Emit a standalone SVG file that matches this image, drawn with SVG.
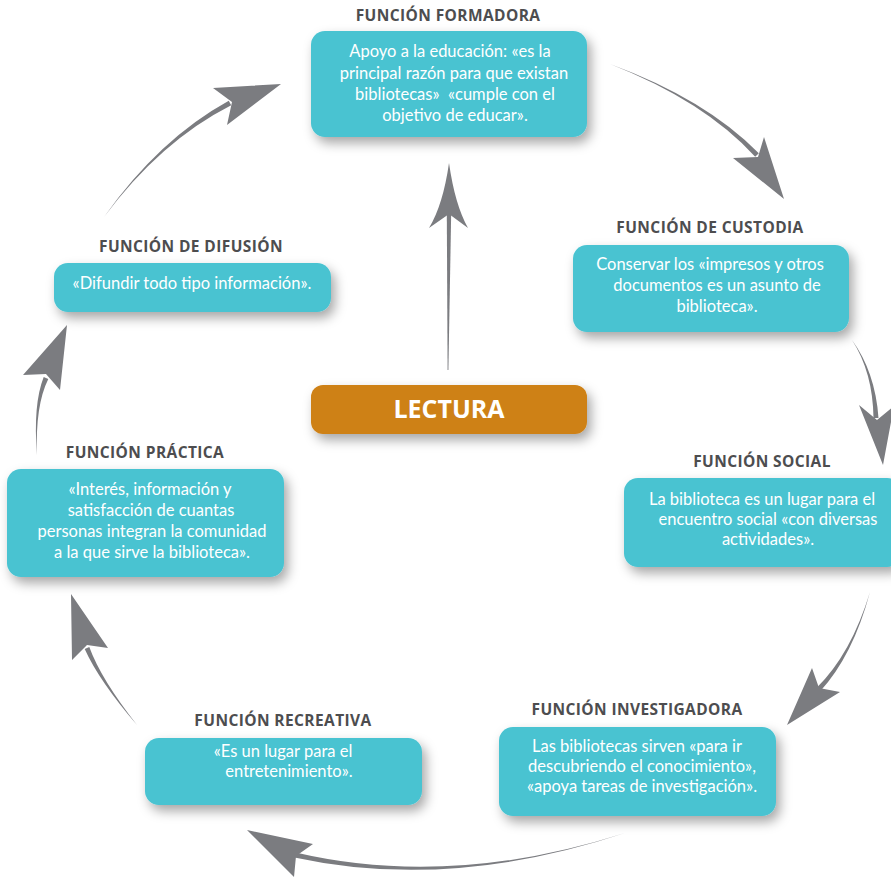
<svg xmlns="http://www.w3.org/2000/svg" width="891" height="879" viewBox="0 0 891 879">
<defs>
<filter id="sh" x="-20%" y="-30%" width="150%" height="180%">
<feDropShadow dx="4" dy="6" stdDeviation="6" flood-color="#000" flood-opacity="0.35"/>
</filter>
<style>
.box{fill:#48c3d1;filter:url(#sh)}
.core{fill:#ce8117;filter:url(#sh)}
.ttl{font-family:"Open Sans","Noto Sans",sans-serif;font-weight:bold;font-size:15.5px;letter-spacing:0.4px;fill:#4d4d4f;text-anchor:middle}
.txt{font-family:Lato,"Open Sans",sans-serif;font-size:16.5px;fill:#ffffff;text-anchor:middle}
.big{font-family:"Open Sans","Noto Sans",sans-serif;font-weight:bold;font-size:25px;fill:#ffffff;text-anchor:middle}
.arr{fill:#7b7c80}
</style>
</defs>
<rect width="891" height="879" fill="#ffffff"/>

<g id="connectors" class="arr">
<g id="c-center"><path d="M447.6,370 L446.8,212 L451.2,212 L448.4,370 Z"/><path d="M449,163 Q455,205 468,228 L449,214 L429,228 Q443,205 449,163 Z"/></g>
<g id="c-formadora-custodia"><path d="M610,64 Q704.1,100.8 755.2,156.7 L758.8,153.3 Q705.9,99.2 610,64 Z"/><path d="M784,199 L733,158 L758,157 L764,137 Z"/></g>
<g id="c-custodia-social"><path d="M852,340 Q872.8,372 873.5,418.1 L878.5,417.9 Q875.2,372 852,340 Z"/><path d="M883,465 L859,405 L877,420 L894,406 Z"/></g>
<g id="c-social-investigadora"><path d="M870,592 Q851.1,654.2 816.2,688.3 L819.8,691.7 Q852.9,655.8 870,592 Z"/><path d="M787,725 L840,692 L819,688 L812,668 Z"/></g>
<g id="c-investigadora-recreativa"><path d="M625,833 Q450.3,888.8 295.6,852.6 L294.4,857.4 Q449.7,891.2 625,833 Z"/><path d="M247,830 L313,844 L296,856 L294,877 Z"/></g>
<g id="c-recreativa-practica"><path d="M137,725 Q101.1,679.5 89.3,647.1 L84.7,648.9 Q98.9,680.5 137,725 Z"/><path d="M71,594 L108,648 L87,645 L72,660 Z"/></g>
<g id="c-practica-difusion"><path d="M37,455 Q35.1,405.5 48.3,379 L43.7,377 Q32.9,404.5 37,455 Z"/><path d="M67,325 L60,390 L46,374 L23,375 Z"/></g>
<g id="c-difusion-formadora"><path d="M104,217 Q160.6,141.1 231.2,105.2 L228.8,100.8 Q159.4,138.9 104,217 Z"/><path d="M281,84 L213,88 L232,102 L227,125 Z"/></g>
</g>

<g id="n-formadora">
<text class="ttl" x="448" y="21">FUNCIÓN FORMADORA</text>
<rect class="box" x="311" y="31" width="276" height="106" rx="14"/>
<text class="txt" x="450" y="57">Apoyo a la educación: «es la</text>
<text class="txt" x="454" y="79">principal razón para que existan</text>
<text class="txt" x="455" y="100">bibliotecas»&#160; «cumple con el</text>
<text class="txt" x="455" y="121">objetivo de educar».</text>
</g>

<g id="n-custodia">
<text class="ttl" x="710" y="233">FUNCIÓN DE CUSTODIA</text>
<rect class="box" x="573" y="245" width="276" height="87" rx="14"/>
<text class="txt" x="710" y="270">Conservar los «impresos y otros</text>
<text class="txt" x="717" y="291">documentos es un asunto de</text>
<text class="txt" x="717" y="312">biblioteca».</text>
</g>

<g id="n-social">
<text class="ttl" x="762" y="467">FUNCIÓN SOCIAL</text>
<rect class="box" x="624" y="478" width="277" height="89" rx="14"/>
<text class="txt" x="762" y="505">La biblioteca es un lugar para el</text>
<text class="txt" x="768" y="525">encuentro social «con diversas</text>
<text class="txt" x="768" y="545">actividades».</text>
</g>

<g id="n-investigadora">
<text class="ttl" x="637" y="715">FUNCIÓN INVESTIGADORA</text>
<rect class="box" x="499" y="727" width="277" height="89" rx="14"/>
<text class="txt" x="637" y="752">Las bibliotecas sirven «para ir</text>
<text class="txt" x="642" y="772">descubriendo el conocimiento»,</text>
<text class="txt" x="642" y="792">«apoya tareas de investigación».</text>
</g>

<g id="n-recreativa">
<text class="ttl" x="283" y="726">FUNCIÓN RECREATIVA</text>
<rect class="box" x="145" y="738" width="277" height="67" rx="14"/>
<text class="txt" x="283" y="757">«Es un lugar para el</text>
<text class="txt" x="289" y="777">entretenimiento».</text>
</g>

<g id="n-practica">
<text class="ttl" x="145" y="458">FUNCIÓN PRÁCTICA</text>
<rect class="box" x="7" y="469" width="277" height="108" rx="14"/>
<text class="txt" x="150" y="495">«Interés, información y</text>
<text class="txt" x="151" y="516">satisfacción de cuantas</text>
<text class="txt" x="152" y="537">personas integran la comunidad</text>
<text class="txt" x="152" y="558">a la que sirve la biblioteca».</text>
</g>

<g id="n-difusion">
<text class="ttl" x="191" y="252">FUNCIÓN DE DIFUSIÓN</text>
<rect class="box" x="54" y="263" width="277" height="49" rx="14"/>
<text class="txt" x="192" y="289">«Difundir todo tipo información».</text>
</g>

<g id="n-lectura">
<rect class="core" x="311" y="385" width="276" height="49" rx="12"/>
<text class="big" x="449" y="418">LECTURA</text>
</g>
</svg>
